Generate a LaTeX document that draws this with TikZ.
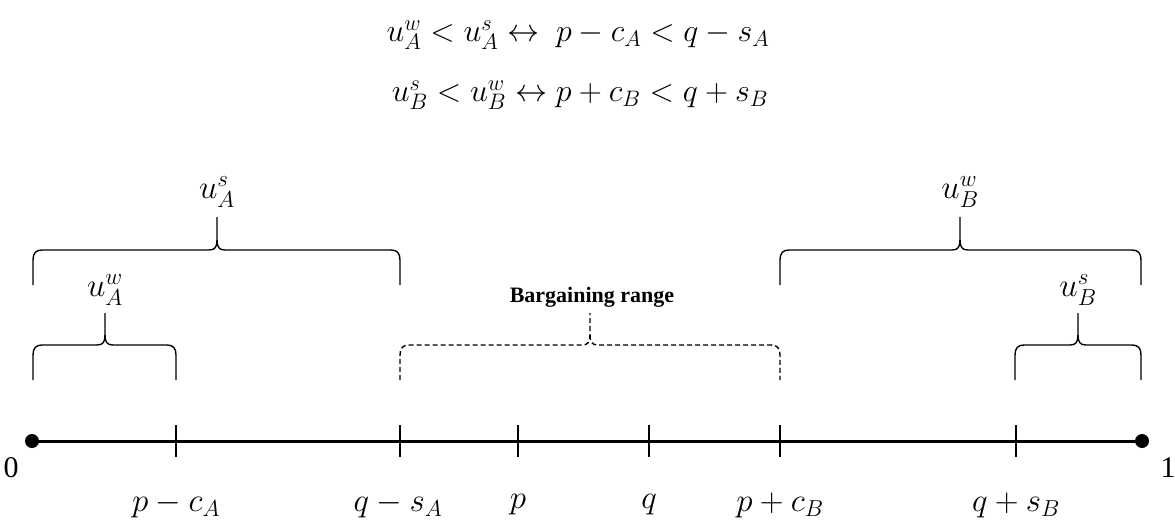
\RequirePackage{fix-cm}
\documentclass[tikz,border=0pt]{standalone}
\usepackage{fontspec}
\setmainfont{Liberation Serif}
\tikzset{
  axisline/.style={line width=3pt},
  tick/.style={line width=1.7pt},
  br/.style={line width=1.4pt, line join=round},
  dbr/.style={br, dash pattern=on 5pt off 3pt},
  mlab/.style={font=\fontsize{33}{38}\selectfont, inner sep=0pt},
  eqn/.style={font=\fontsize{32}{38}\selectfont, inner sep=0pt},
  endlab/.style={font=\fontsize{30}{34}\selectfont, inner sep=0pt},
  blab/.style={font=\fontsize{22}{26}\selectfont\bfseries, inner sep=0pt},
}
% style, x1, x2, xmid, yhoriz, ybottom, ytop
\newcommand\mybrace[7]{%
  \draw[#1] (#2,#6) -- (#2,#5+10) .. controls (#2,#5+3) and (#2+3,#5) .. (#2+9,#5)
    -- (#4-8,#5) .. controls (#4-2,#5) and (#4,#5-3) .. (#4,#5-10) -- (#4,#7);
  \draw[#1] (#4,#5-10) .. controls (#4,#5-3) and (#4+2,#5) .. (#4+8,#5)
    -- (#3-9,#5) .. controls (#3-3,#5) and (#3,#5+3) .. (#3,#5+10) -- (#3,#6);}
\begin{document}
\begin{tikzpicture}[x=1pt,y=-1pt]
\useasboundingbox (0,0) rectangle (1175,522);
% equations
\node[eqn] (eq1) at (578,35) {$u_A^w < u_A^s \leftrightarrow\ p - c_A < q - s_A$};
\node[eqn] (eq2) at (580,95) {$u_B^s < u_B^w \leftrightarrow p + c_B < q + s_B$};
% axis
\coordinate (zero) at (32,441);
\coordinate (one) at (1142,441);
\draw[axisline] (zero) -- (one);
\fill (zero) circle (7);
\fill (one) circle (7);
\foreach \x/\n in {176/t1,400/t2,518/t3,649/t4,780/t5,1016/t6}{
  \coordinate (\n) at (\x,441);
  \draw[tick] (\x,425) -- (\x,457);
}
\node[endlab] (l0) at (11,468) {0};
\node[endlab] (l1) at (1168,468) {1};
\node[mlab] (b1) at (176,505) {$p - c_A$};
\node[mlab] (b2) at (398,505) {$q - s_A$};
\node[mlab] (b3) at (518,505) {$p$};
\node[mlab] (b4) at (649,505) {$q$};
\node[mlab] (b5) at (780,505) {$p + c_B$};
\node[mlab] (b6) at (1016,505) {$q + s_B$};
% braces
\mybrace{br}{33}{400}{217}{250}{285}{217}
\node[mlab] (uAs) at (217,192) {$u_A^s$};
\mybrace{br}{33}{176}{105}{345}{380}{313}
\node[mlab] (uAw) at (105,290) {$u_A^w$};
\mybrace{dbr}{400}{780}{590}{345}{380}{313}
\node[blab] (bar) at (592,297) {Bargaining range};
\mybrace{br}{780}{1141}{960}{250}{285}{217}
\node[mlab] (uBw) at (960,192) {$u_B^w$};
\mybrace{br}{1015}{1141}{1078}{345}{380}{313}
\node[mlab] (uBs) at (1078,290) {$u_B^s$};
\end{tikzpicture}
\end{document}
